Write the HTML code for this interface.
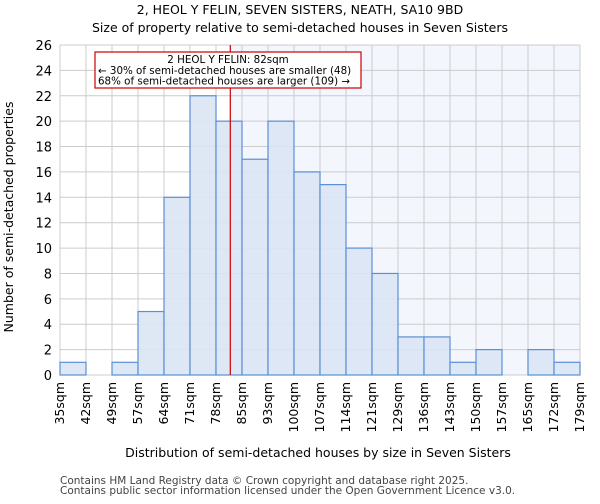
<!DOCTYPE html>
<html><head><meta charset="utf-8"><style>
body{margin:0;background:#fff;font-family:"DejaVu Sans","Liberation Sans",sans-serif;}
</style></head><body>
<svg id="chart" width="600" height="500" xmlns="http://www.w3.org/2000/svg" font-family="DejaVu Sans, Liberation Sans, sans-serif">
<text x="300" y="14" text-anchor="middle" font-size="12.5">2, HEOL Y FELIN, SEVEN SISTERS, NEATH, SA10 9BD</text>
<text x="300" y="32" text-anchor="middle" font-size="12.5">Size of property relative to semi-detached houses in Seven Sisters</text>
<g id="plot"></g>
<text x="318" y="457" text-anchor="middle" font-size="12.5">Distribution of semi-detached houses by size in Seven Sisters</text>
<text transform="translate(13,217) rotate(-90)" text-anchor="middle" font-size="12.5">Number of semi-detached properties</text>
<text x="60" y="484" font-size="10.5" fill="#444">Contains HM Land Registry data © Crown copyright and database right 2025.</text>
<text x="60" y="494" font-size="10.5" fill="#444">Contains public sector information licensed under the Open Government Licence v3.0.</text>
</svg>
<script>
const binLabels=["35sqm","42sqm","49sqm","57sqm","64sqm","71sqm","78sqm","85sqm","93sqm","100sqm","107sqm","114sqm","121sqm","129sqm","136sqm","143sqm","150sqm","157sqm","165sqm","172sqm","179sqm"];
const counts=[1,0,1,5,14,22,20,17,20,16,15,10,8,3,3,1,2,0,2,1];
const yTicks=[0,2,4,6,8,10,12,14,16,18,20,22,24,26];
const markerBin=6.55;
const X0=60,X1=580,Y0=375,Y1=45,YMAX=26;
const bw=(X1-X0)/counts.length;
const xs=i=>X0+i*bw;
const ys=v=>Y0-(v/YMAX)*(Y0-Y1);
const NS="http://www.w3.org/2000/svg";
const g=document.getElementById('plot');
function mk(t,a){const e=document.createElementNS(NS,t);for(const k in a)e.setAttribute(k,a[k]);g.appendChild(e);return e;}
const mx=xs(markerBin);
let bg=mk('rect',{x:mx,y:Y1,width:X1-mx,height:Y0-Y1,fill:'#f3f6fd'});


for(let i=0;i<=counts.length;i++){
 const l=mk('line',{x1:xs(i),x2:xs(i),y1:Y1,y2:Y0,stroke:'#cccccc','stroke-width':1});
 
 
}
yTicks.forEach(v=>{
 const l=mk('line',{x1:X0,x2:X1,y1:ys(v),y2:ys(v),stroke:'#cccccc','stroke-width':1});
 
 
 const t=mk('text',{x:X0-8,y:ys(v)+5,'text-anchor':'end','font-size':13});
 t.textContent=v;
 
 
});
counts.forEach((c,i)=>{
 if(c<=0)return;
 const r=mk('rect',{x:xs(i),y:ys(c),width:bw,height:Y0-ys(c),fill:'#dae5f4','fill-opacity':0.9,stroke:'#5b8fd6','stroke-width':1.2});
 
 
});
binLabels.forEach((s,i)=>{
 const x=xs(i)+4;
 const t=mk('text',{transform:`translate(${x},${Y0+7}) rotate(-90)`,'text-anchor':'end','font-size':12.5});
 t.textContent=s;
 
 
});
const rl=mk('line',{x1:mx,x2:mx,y1:Y1,y2:Y0,stroke:'#cc0000','stroke-width':1.2});


const box=mk('rect',{x:95,y:52,width:266,height:36,fill:'#fff',stroke:'#cc0000','stroke-width':1.2});


const ann=["2 HEOL Y FELIN: 82sqm","← 30% of semi-detached houses are smaller (48)","68% of semi-detached houses are larger (109) →"];
ann.forEach((s,i)=>{
 const t=mk('text',{x:i==0?228:98,y:63+i*10.8,'text-anchor':i==0?'middle':'start','font-size':10.3});
 t.textContent=s;
 
 
});
</script>
</body></html>
